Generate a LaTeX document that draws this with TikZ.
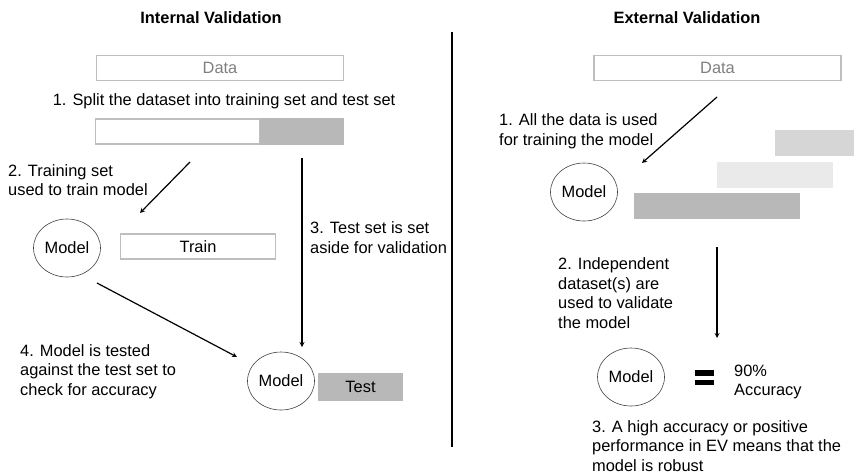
\documentclass[tikz,border=0pt]{standalone}
\usepackage{fontspec}
\setmainfont{Liberation Sans}
\usetikzlibrary{shapes.geometric}
\definecolor{edgegray}{HTML}{BEBEBE}
\definecolor{textgray}{HTML}{7F7F7F}
\definecolor{barmid}{HTML}{B8B8B8}
\definecolor{barlight}{HTML}{D6D6D6}
\definecolor{barpale}{HTML}{EAEAEA}

\begin{document}
\begin{tikzpicture}[>=stealth,x=1pt,y=-1pt,
  font=\fontsize{16.4}{19.6}\selectfont,
  databox/.style={draw=edgegray,line width=1.5pt,inner sep=0pt,minimum height=25pt},
  grayblock/.style={fill=#1,inner sep=0pt,minimum height=26pt},
  modelnode/.style={ellipse,draw=black!75,line width=.6pt,inner sep=0pt,minimum width=67pt,minimum height=58pt},
  note/.style={anchor=west,align=left,inner sep=0pt},
  flow/.style={->,line width=1.2pt}]
\useasboundingbox (0,0) rectangle (854,475);
\node[font=\fontsize{16.4}{19.6}\selectfont\bfseries] (titleIV) at (211,18) {Internal Validation};
\node[font=\fontsize{16.4}{19.6}\selectfont\bfseries] (titleEV) at (687,18) {External Validation};
\draw[line width=1.8pt] (452,32)--(452,447);
% internal validation
\node[databox,minimum width=247pt,text=textgray] (dataIV) at (220,68) {Data};
\node (split) at (224,101) {1. Split the dataset into training set and test set};
\node[databox,minimum width=164pt] (trainpart) at (177.5,131.5) {};
\node[grayblock=barmid,minimum width=84pt,minimum height=27pt] (testpart) at (302,131.5) {};
\node[modelnode] (modelA) at (67,248) {Model};
\node[databox,minimum width=155pt] (train) at (198,246.5) {Train};
\node[modelnode] (modelB) at (281,381) {Model};
\node[grayblock=barmid,minimum width=85pt,minimum height=28pt] (test) at (360.5,387) {Test};
\node[note] (stepTwo) at (8,180) {2. Training set\\used to train model};
\node[note] (stepThree) at (310,237.5) {3. Test set is set\\aside for validation};
\node[note] (stepFour) at (20,371.5) {4. Model is tested\\against the test set to\\check for accuracy};
\coordinate (trainstart) at (190,162);
\coordinate (trainend) at (140,213);
\coordinate (teststart) at (302,158);
\coordinate (testend) at (302,347);
\coordinate (evalstart) at (97,283);
\coordinate (evalend) at (237,357);
\draw[flow] (trainstart)--(trainend);
\draw[flow] (teststart)--(testend);
\draw[flow] (evalstart)--(evalend);
% external validation
\node[databox,minimum width=247pt,text=textgray] (dataEV) at (717.5,68) {Data};
\node[note] (allData) at (499,131) {1. All the data is used\\for training the model};
\node[grayblock=barlight,minimum width=79pt] (setA) at (814.5,142.5) {};
\node[grayblock=barpale,minimum width=116pt] (setB) at (775,175) {};
\node[grayblock=barmid,minimum width=166pt] (setC) at (717,206) {};
\node[modelnode] (modelC) at (584,192) {Model};
\node[note] (indep) at (558,293) {2. Independent\\dataset(s) are\\used to validate\\the model};
\node[modelnode] (modelD) at (631,377) {Model};
\fill (695,370) rectangle (714,376);
\fill (695,380) rectangle (714,385);
\node[note] (accuracy) at (734,382) {90\%\\Accuracy};
\node[note] (robust) at (592,446) {3. A high accuracy or positive\\performance in EV means that the\\model is robust};
\coordinate (allstart) at (717,97);
\coordinate (allend) at (642,163);
\coordinate (indstart) at (717,247);
\coordinate (indend) at (717,338);
\draw[flow] (allstart)--(allend);
\draw[flow] (indstart)--(indend);
\end{tikzpicture}
\end{document}
